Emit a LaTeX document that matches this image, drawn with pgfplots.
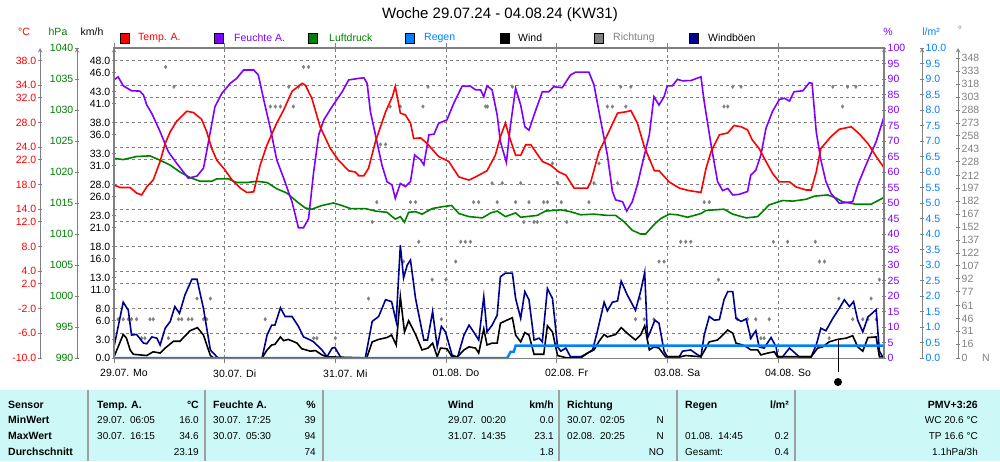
\documentclass[border=0pt]{standalone}
\usepackage{pgfplots}
\pgfplotsset{compat=1.18}
\usepackage{fontspec}
\setmainfont{Liberation Sans}

\definecolor{tcol}{HTML}{FF0000}
\definecolor{hcol}{HTML}{8000FF}
\definecolor{pcol}{HTML}{008000}
\definecolor{rcol}{HTML}{0080FF}
\definecolor{bcol}{HTML}{000090}
\definecolor{dcol}{HTML}{808080}
\definecolor{tabbg}{HTML}{CCF8F8}
\definecolor{sepcol}{HTML}{A0A0A0}

\newcommand\tl{\fontsize{10.5}{12}\selectfont}
\newcommand\tr{\fontsize{10}{12}\selectfont}
\newcommand\tb{\fontsize{10.5}{12}\selectfont\bfseries}
\newcommand\cw[3]{\node[anchor=base west, inner sep=0pt, font=\tr] at (#1pt,#2pt) {#3};}
\newcommand\ce[3]{\node[anchor=base east, inner sep=0pt, font=\tr] at (#1pt,#2pt) {#3};}
\newcommand\bw[3]{\node[anchor=base west, inner sep=0pt, font=\tb] at (#1pt,#2pt) {#3};}
\newcommand\be[3]{\node[anchor=base east, inner sep=0pt, font=\tb] at (#1pt,#2pt) {#3};}
\newcommand\dt[2]{#1\hspace{5pt}#2}

\pgfplotsset{
  plotarea/.style={scale only axis, width=770pt, height=310pt,
    at={(114pt,103pt)}, anchor=south west, xmin=0, xmax=167},
  dataaxis/.style={plotarea, hide axis},
  sideaxis/.style={scale only axis, width=1pt, height=310pt, anchor=south west,
    xmin=0, xmax=1, axis x line=none, tick align=outside, major tick length=4pt,
    axis line style={-, dcol, line width=1pt},
    ytick style={dcol, line width=0.8pt},
    /pgf/number format/assume math mode=true,
    /pgf/number format/1000 sep={},
    yticklabel style={font=\tl, inner sep=1.5pt}},
  onedec/.style={yticklabel style={/pgf/number format/fixed, /pgf/number format/fixed zerofill, /pgf/number format/precision=1}},
}

\begin{document}
\begin{tikzpicture}
\useasboundingbox (0,0) rectangle (1000pt,461pt);
\fill[white] (0,0) rectangle (1000pt,461pt);

% grid and day ticks
\begin{axis}[plotarea, ymin=-10, ymax=40,
  axis line style={draw=none},
  ytick={-10,-6,-2,2,4,8,12,14,18,22,24,28,32,34,38}, yticklabels={},
  ytick style={draw=none},
  xtick={0,24,48,72,96,120,144},
  xticklabels={29.07. Mo,30.07. Di,31.07. Mi,01.08. Do,02.08. Fr,03.08. Sa,04.08. So},
  xticklabel style={font=\tl, xshift=10pt, yshift=-3pt},
  tick align=outside, major tick length=5pt,
  xtick style={dcol, line width=0.8pt},
  xmajorgrids, ymajorgrids,
  major grid style={dcol, line width=0.8pt, dash pattern=on 3pt off 3pt},
]
\end{axis}

% side axes
\begin{axis}[sideaxis, onedec, at={(40pt,103pt)}, axis y line=left, ymin=-10, ymax=40,
  ytick={-10,-6,-2,2,4,8,12,14,18,22,24,28,32,34,38}, yticklabel style={text=tcol}]
\end{axis}
\begin{axis}[sideaxis, at={(77pt,103pt)}, axis y line=left, ymin=990, ymax=1040,
  ytick={990,995,...,1040}, yticklabel style={text=pcol}]
\end{axis}
\begin{axis}[sideaxis, onedec, at={(114pt,103pt)}, axis y line=left, ymin=0, ymax=50,
  ytick={0,3,6,8,11,13,16,18,21,23,26,28,31,33,36,38,41,43,46,48}]
\end{axis}
\begin{axis}[sideaxis, at={(883pt,103pt)}, axis y line=right, ymin=0, ymax=100,
  ytick={0,5,...,100}, yticklabel style={text=hcol}]
\end{axis}
\begin{axis}[sideaxis, onedec, at={(921pt,103pt)}, axis y line=right, ymin=0, ymax=10,
  ytick={0,0.5,...,10}, yticklabel style={text=rcol}]
\end{axis}
\begin{axis}[sideaxis, at={(957pt,103pt)}, axis y line=right, ymin=0, ymax=360,
  ytick={0,16,31,46,61,77,92,107,122,137,152,167,182,197,212,228,243,258,273,288,303,318,333,348},
  yticklabel style={text=dcol}]
\end{axis}

% Richtung
\begin{axis}[dataaxis, ymin=0, ymax=360]
\addplot[only marks, mark=diamond*, mark size=1.8pt, dcol] coordinates {
(0.9,45)(2,45)(3.1,45)(3.8,45)(4.9,45)(6,23)(6.7,23)(7.8,45)(8.5,45)(11.2,338)(11.8,23)
(13,315)(14,45)(14.7,45)(16.1,45)(16.9,45)(18,69)(19.4,45)(20.1,45)(20.9,69)(32.8,45)
(33.9,292)(35,292)(36.1,292)(37.9,315)(38.9,292)(40,315)(41.1,338)(42.2,338)(43.3,23)
(44,23)(48,23)(55.2,69)(56,158)(57,181)(57.8,248)(58.9,248)(59.9,292)(62.1,292)(62.8,112)
(64.3,181)(65.4,181)(66.1,135)(67,292)(68.1,315)(69,91)(71,45)(72,91)(74.1,112)(75.2,135)
(76.2,135)(77.3,135)(78,181)(79.1,181)(80.6,292)(81,292)(82,203)(83.1,181)(84.2,203)
(86.4,315)(87.1,181)(88.2,203)(88.9,158)(90,181)(91.1,158)(91.8,158)(93.2,181)(94,181)
(95.1,226)(96.2,203)(97,181)(98.2,158)(103,181)(104.1,203)(105.2,226)(107,292)(108.1,292)
(109.2,203)(109.9,315)(111,292)(112.1,315)(113.1,45)(114.1,69)(115,45)(117.1,45)(118.2,112)
(119.3,112)(122.9,135)(124,135)(125.1,135)(128,181)(129.1,181)(131.1,91)(132.3,292)
(133.1,292)(134.2,315)(135.2,45)(136,315)(137.4,45)(138.1,23)(139.2,45)(140.3,23)(141,23)
(142.1,45)(143,135)(146.1,135)(152.1,135)(153,112)(154.1,112)(155.1,23)(155.9,315)
(157.2,69)(158,292)(159.1,315)(160.2,45)(160.9,315)(162.4,45)(163.5,45)(164.2,69)(165.3,45)(166,91)
};
\end{axis}

% Luftdruck
\begin{axis}[dataaxis, ymin=990, ymax=1040]
\addplot[pcol, line width=1.6pt] coordinates {
(0,1022.2)(2,1022.0)(4.9,1022.5)(7.8,1022.6)(10,1021.9)(12.2,1021.1)(14.3,1020.0)(16.5,1019.1)
(18.7,1018.5)(21.2,1018.5)(22.3,1018.9)(24.8,1018.9)(26.6,1018.3)(28.8,1018.3)(31,1018.5)
(33.2,1018.3)(35.3,1017.3)(37.5,1016.6)(39.7,1015.2)(41.5,1014.2)(42.9,1014.0)(45.1,1014.6)
(47.6,1015.0)(49.4,1014.6)(51.3,1014.1)(54.5,1014.1)(56.7,1013.7)(59.2,1013.5)(61,1012.4)
(62.1,1012.8)(63,1011.9)(63.9,1013.5)(65.4,1013.6)(66.8,1013.2)(69,1014.1)(71.2,1014.4)
(73.2,1014.6)(74.8,1013.3)(77,1012.8)(79.9,1012.6)(81.7,1013.4)(83.1,1013.7)(84.9,1012.8)
(87.1,1013.4)(88.2,1012.7)(91.8,1013.0)(93.6,1013.7)(96.9,1013.9)(99,1013.6)(101.2,1013.1)
(104.1,1013.2)(107,1013.0)(108.8,1013.0)(110.6,1012.0)(112.4,1010.6)(114.2,1010.0)
(115.3,1010.0)(117.1,1011.5)(118.6,1012.5)(120.4,1013.2)(122.2,1013.1)(124.4,1012.7)
(127.3,1013.3)(128.4,1013.8)(132.3,1014.0)(134.2,1013.2)(137.1,1012.6)(139.6,1012.8)
(142.1,1014.7)(145,1015.4)(147.2,1015.3)(150.1,1015.6)(151.9,1016.1)(154.8,1016.3)
(156.6,1015.8)(158,1015.2)(160.9,1014.8)(164.2,1014.8)(167,1015.9)
};
\end{axis}

% Feuchte
\begin{axis}[dataaxis, ymin=0, ymax=100]
\addplot[hcol, line width=1.6pt] coordinates {
(0,89.7)(0.9,90.7)(2,87.8)(3.8,86.2)(5.6,86.1)(6.4,84.8)(7.1,81.6)(8.2,78.9)(10,73)
(11.8,66.5)(13.6,62.8)(16.1,58)(18,58.7)(19.4,61.2)(20.5,69.8)(21.9,81.1)(23.4,85.4)
(25.2,88.6)(26.6,90.2)(28.1,92.9)(30.3,92.9)(31.3,91.3)(32.4,83.8)(33.9,74.1)(35.3,63.9)
(36.8,58)(38.6,50.4)(40,42)(41.1,42)(42.2,45)(43.3,60)(44.4,72)(45.5,76.8)(47.3,81.1)
(49.5,85.9)(50.9,89.7)(53.1,90.2)(54.2,90.4)(54.9,88.6)(55.6,79.5)(56.7,72)(58.1,62.3)
(59.2,56.9)(60.3,55.8)(61,51.5)(62.1,56.3)(63.2,55.3)(64.3,56.9)(65.2,65.5)(66.5,63.9)
(67.2,62.3)(68.3,72)(69.4,72.2)(70.4,75.7)(72.2,76.8)(73.7,82.2)(75.5,87.7)(77.3,87.7)
(78.4,86.5)(79.5,86.5)(80.2,84.3)(80.9,87.8)(82,86.5)(83.1,78.4)(83.8,69.8)(85.1,63.1)
(86,75.2)(87.1,87)(88.2,81.6)(89.1,74.6)(90,73.5)(91.1,78.4)(92.9,85.9)(94.3,85.9)
(95.4,87.5)(97.2,87.2)(99,91.3)(100.1,92.2)(103,92.2)(104.1,88.1)(105.6,76.2)(107,65.5)
(108.1,53.7)(108.8,51)(110.3,50.4)(111.2,47.4)(112.4,50.4)(113.5,55.8)(114.6,62.8)
(116.1,72)(117.1,84.3)(118.2,81.6)(119.3,84.3)(120,87.8)(121.1,87.8)(122.2,89.9)
(123.3,89.4)(125.1,89.5)(127.3,90.7)(128,82.7)(129.5,68.7)(130.9,56.9)(132,54)(133.1,54.7)
(134.2,52.6)(135.6,52.8)(137.4,53.7)(138.1,59)(139.2,60.6)(140.3,65.5)(141.4,74.1)
(142.8,79.5)(144.3,83.4)(145.4,83.8)(146.5,82.9)(147.5,85.9)(149.4,86.2)(150.8,88.8)
(151.4,88.6)(152.3,73)(153.3,63.9)(154.4,56.9)(155.5,53.1)(157.3,49.9)(160.2,50.4)
(161.3,55.8)(163.1,62.3)(165.3,69.8)(167,77.8)
};
\end{axis}

% Temp
\begin{axis}[dataaxis, ymin=-10, ymax=40]
\addplot[tcol, line width=1.6pt] coordinates {
(0,17.9)(1.3,17.5)(3.5,17.5)(4.9,16.6)(6,16.3)(7.1,17.6)(8.5,18.7)(10,21.7)(11.1,24.6)
(12.2,26.5)(13.6,28.2)(15.8,29.8)(17.2,29.6)(19,28.5)(20.1,26.5)(21.2,23.8)(22.3,21.9)
(24.1,20.3)(25.6,18.7)(27.4,17.4)(28.8,16.7)(30.3,16.8)(31.7,21.1)(33.2,24.4)(35.3,27.9)
(36.8,30)(38.6,33)(40.8,34.3)(41.5,34.0)(42.9,31.9)(44.7,27.3)(46.9,23.8)(48.7,21.9)
(50.9,20.2)(52.3,20.0)(53.1,19.4)(54.2,19.4)(55.2,20.6)(56.7,24.9)(58.9,29.7)(60.4,32.2)
(61,33.8)(62.1,29.5)(63.2,29.2)(64.3,27.9)(65,25.4)(66.5,25.5)(67.9,24.6)(70.4,22.5)
(72.6,21.7)(74.8,19.2)(77,18.7)(78.4,19.2)(80.9,20.2)(82.7,22.7)(83.8,25.7)(84.9,27.9)
(85.6,26)(87.1,22.7)(88.2,22.7)(89.3,24.4)(90.4,24.4)(92.9,21.7)(94.7,21.1)(96.5,20.0)
(98,19.5)(99.8,17.4)(102.7,17.4)(103.4,18.4)(105.2,23.3)(107,26)(109.2,29.5)(111,29.7)
(112.1,29.9)(113.5,27.9)(115,24.1)(117.2,20.2)(118.2,20.2)(120.4,18.4)(122.6,17.4)
(124.7,17.0)(127.3,16.7)(128.4,20.6)(129.5,23.3)(131.3,26)(133.1,26.3)(134.5,27.5)
(136,27.3)(137.4,26.8)(138.4,25.2)(139.9,23.8)(141.4,21.7)(142.8,19.8)(144.3,18.4)
(146.5,18.4)(147.9,17.6)(150.1,17.1)(151.2,17.1)(152.3,20)(153.3,23.8)(155.5,25.7)
(157.3,26.9)(159.9,27.3)(161.7,26.1)(163.5,24.6)(165.3,22.5)(167,20.7)
};
\end{axis}

% Windboeen and Wind
\begin{axis}[dataaxis, ymin=0, ymax=50]
\addplot[bcol, line width=1.6pt] coordinates {
(0,1.8)(2,9.0)(3.1,7.7)(3.8,3.7)(4.9,3.8)(6.4,2.4)(7.1,2.3)(8.2,3.4)(9.3,3.2)(10,2.1)
(11.1,4.8)(12.2,5.9)(13.2,8.3)(14.2,7.2)(15.4,10.2)(16.9,12.7)(18,12.7)(19.4,8.0)(20.9,1.3)
(22.3,0.2)(22.7,0)(32.1,0)(33.2,3.7)(34.2,5.3)(34.9,5.3)(36.1,8.1)(37.1,6.7)(38.6,6.7)
(40,5.1)(41.1,3.4)(42.6,2.9)(43.3,2.6)(45.1,1.3)(46.2,0.2)(47.3,1.6)(47.9,1.7)(49.1,0.2)
(49.5,0)(54.5,0)(56,5.9)(57.4,6.7)(58.9,9.4)(60.2,9.1)(61.2,5.9)(62.1,18.2)(62.8,12.9)
(63.6,15.0)(64.3,15.8)(65.4,9.6)(67.2,2.9)(68,2.9)(69.1,7.5)(70.1,1.8)(71,5.1)(71.9,4.2)
(73.3,0.5)(74.5,0.1)(75.9,3.7)(77,5.3)(78,4.2)(79.1,2.9)(80.2,9.9)(80.9,4.2)(82,5.3)
(83.1,6.9)(83.8,13.1)(84.9,13.7)(86.4,13.7)(87.1,9.6)(88.2,6.4)(89.1,10.7)(90,9.4)
(91.1,2.9)(92.2,3.2)(92.9,2.6)(94,11.2)(95.1,9.6)(96.2,1.8)(96.9,1.1)(98,1.6)(99,0.2)
(101.2,0.2)(102.3,0.6)(103.8,1.3)(104.8,4.2)(106.3,9.0)(107,7.6)(108.1,9.0)(109.2,9.2)
(110,12.4)(111.3,10.2)(113.1,7.7)(114.2,10.7)(115.1,13.8)(115.7,3.2)(116.4,4.4)(117.3,6.1)
(118.2,5.6)(119.3,1.1)(120,0.2)(122.6,0.2)(123.3,1.1)(125.1,1.3)(126.2,0.7)(127.3,0.2)
(128,3.7)(129.1,6.7)(130.2,6.1)(131.3,6.2)(132.3,9.4)(133.1,10.7)(134.2,10.7)(134.9,6.4)
(136,5.9)(137.1,6.3)(138.1,3.2)(139.2,4.4)(139.9,1.8)(141,1.6)(142.5,3.3)(143.6,1.8)
(143.9,0.2)(145,0.2)(146.5,1.6)(148.6,0.2)(151.2,0.2)(152.3,2.1)(153.3,4.8)(154.4,4.4)
(155.9,6.4)(157.3,8.0)(158.4,9.4)(159.5,8.3)(160.4,9.1)(161.3,6.1)(162.4,4.2)(163.5,6.6)
(165.3,7.8)(166,1.1)(166.7,0.2)
};
\addplot[black, line width=1.6pt] coordinates {
(0,0.2)(0.9,1.8)(2,3.8)(2.7,3.2)(3.5,1.3)(4.2,0.6)(7.1,0.4)(8.5,1.0)(10,0.8)(11.1,1.6)
(12.9,2.7)(14.3,2.7)(16.5,4.4)(18.1,4.9)(19.4,3.7)(20.9,0.4)(21.6,0)(32.1,0)(33.2,1.3)
(34.2,2.1)(34.9,2.2)(36.1,3.4)(36.8,2.8)(37.8,3.0)(39.7,2.4)(40.7,1.5)(42.6,1.1)(43.7,1.2)
(45.1,0.5)(46.2,0.2)(54.8,0)(56,2.6)(57.4,3.0)(59.2,3.3)(60.2,3.7)(61.2,2.1)(62.1,9.9)
(63,4.2)(63.9,6.0)(65.4,3.8)(66.8,1.3)(68.1,1.6)(69.1,2.4)(70.1,0.2)(70.8,1.6)(72.2,1.5)
(73.3,0.2)(74.5,0.2)(75.9,1.3)(77,1.8)(78.4,1.6)(79.1,0.8)(80.2,4.7)(80.9,2.1)(82,2.4)
(83.1,2.4)(83.8,5.6)(84.9,6.0)(86.4,6.5)(87.1,3.7)(88.2,2.6)(89.1,4.1)(90,3.7)(91.1,0.6)
(93.2,0.6)(94,5.2)(95.1,4.2)(96.2,0.4)(98.3,0)(101.2,0)(102.7,0.8)(104.1,1.3)(105.2,2.7)
(106.3,3.8)(107,3.4)(108.8,3.8)(110,4.9)(111.3,4.0)(113.1,2.9)(114.2,3.7)(115.1,5.2)
(116.1,1.3)(117.1,1.8)(118.2,1.6)(119.6,0.2)(122.9,0.2)(124,0.4)(127.3,0.2)(129.1,2.6)
(130.9,2.9)(132,3.7)(133.1,4.5)(134.2,4.0)(134.9,2.4)(136.3,2.1)(137.4,1.7)(138.1,1.3)
(139.6,1.3)(140.3,0.5)(141.8,0.8)(143.2,1.0)(143.9,0.2)(151.2,0.2)(152.6,1.6)(153.7,1.8)
(155.1,2.6)(156.9,3.0)(158.8,3.2)(160.2,3.6)(161.3,1.8)(162.4,1.1)(163.5,3.3)(165.3,3.4)
(166,0.2)(167,0.2)
};
\end{axis}

% Regen and frame
\begin{axis}[dataaxis, ymin=0, ymax=10, clip=false]
\addplot[rcol, line width=2.4pt] coordinates {
(0,0)(85.3,0)(86,0.2)(86.7,0.2)(87.1,0.4)(167,0.4)
};
\draw[dcol, line width=0.8pt] (rel axis cs:0,0) -- (rel axis cs:1,0);
\draw[dcol, line width=2.5pt] (rel axis cs:0,0) -- (rel axis cs:0,1) -- (rel axis cs:1,1) -- (rel axis cs:1,0);
\end{axis}

% now marker
\draw[black, line width=1pt] (838pt,121pt) -- (838pt,89pt);
\fill[black] (838pt,79pt) circle (4pt);

% title, units, legend
\node[font=\fontsize{15}{18}\selectfont] at (500pt,446pt) {Woche 29.07.24 - 04.08.24 (KW31)};
\node[font=\tl, text=tcol] at (24pt,429pt) {°C};
\node[font=\tl, text=pcol] at (58pt,429pt) {hPa};
\node[font=\tl] at (92pt,429pt) {km/h};
\node[font=\tl, text=hcol] at (888pt,429pt) {\%};
\node[font=\tl, text=rcol] at (931pt,429pt) {l/m²};
\node[font=\tl, text=dcol] at (960pt,431pt) {°};
\node[font=\tl, text=dcol] at (986pt,103pt) {N};

\foreach \x/\c in {124.5/tcol, 219/hcol, 313/pcol, 410/rcol, 505/black, 599/dcol, 694/bcol}{
  \filldraw[fill=\c, draw=black, line width=0.6pt] (\x pt-4.5pt,418pt) rectangle (\x pt+4.5pt,428pt);
}
\node[anchor=west, inner sep=0pt, font=\tl, text=tcol] at (138pt,423pt) {Temp. A.};
\node[anchor=west, inner sep=0pt, font=\tl, text=hcol] at (234pt,423pt) {Feuchte A.};
\node[anchor=west, inner sep=0pt, font=\tl, text=pcol] at (329pt,423pt) {Luftdruck};
\node[anchor=west, inner sep=0pt, font=\tl, text=rcol] at (424pt,423pt) {Regen};
\node[anchor=west, inner sep=0pt, font=\tl] at (518pt,423pt) {Wind};
\node[anchor=west, inner sep=0pt, font=\tl, text=dcol] at (613pt,423pt) {Richtung};
\node[anchor=west, inner sep=0pt, font=\tl] at (708pt,423pt) {Windböen};

% table
\fill[tabbg] (0,0) rectangle (1000pt,71pt);
\foreach \x in {88,205,323,559,677,795}{
  \draw[sepcol, line width=2pt] (\x pt,0pt) -- (\x pt,71pt);
}
\bw{8}{53}{Sensor} \bw{97}{53}{Temp. A.} \be{199}{53}{°C} \bw{213}{53}{Feuchte A.} \be{316}{53}{\%}
\bw{448}{53}{Wind} \be{554}{53}{km/h} \bw{567}{53}{Richtung} \bw{685}{53}{Regen} \be{789}{53}{l/m²}
\be{978}{53}{PMV+3:26}
\bw{8}{38}{MinWert} \cw{97}{38}{\dt{29.07.}{06:05}} \ce{199}{38}{16.0} \cw{213}{38}{\dt{30.07.}{17:25}}
\ce{316}{38}{39} \cw{448}{38}{\dt{29.07.}{00:20}} \ce{554}{38}{0.0} \cw{567}{38}{\dt{30.07.}{02:05}}
\ce{664}{38}{N} \ce{978}{38}{WC 20.6 °C}
\bw{8}{22}{MaxWert} \cw{97}{22}{\dt{30.07.}{16:15}} \ce{199}{22}{34.6} \cw{213}{22}{\dt{30.07.}{05:30}}
\ce{316}{22}{94} \cw{448}{22}{\dt{31.07.}{14:35}} \ce{554}{22}{23.1} \cw{567}{22}{\dt{02.08.}{20:25}}
\ce{664}{22}{N} \cw{685}{22}{\dt{01.08.}{14:45}} \ce{789}{22}{0.2} \ce{978}{22}{TP 16.6 °C}
\bw{8}{6}{Durchschnitt} \ce{199}{6}{23.19} \ce{316}{6}{74} \ce{554}{6}{1.8} \ce{664}{6}{NO}
\cw{685}{6}{Gesamt:} \ce{789}{6}{0.4} \ce{978}{6}{1.1hPa/3h}
\end{tikzpicture}
\end{document}
